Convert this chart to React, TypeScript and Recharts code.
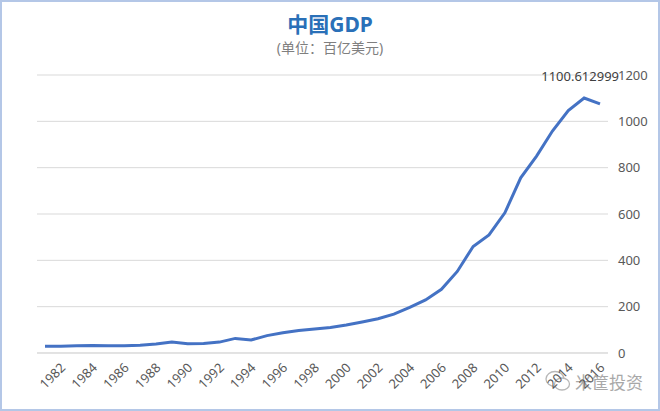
import React from "react";
import { LineChart, Line, XAxis, YAxis, CartesianGrid, LabelList } from "recharts";

const years = [
  "1981", "1982", "1983", "1984", "1985", "1986", "1987", "1988", "1989", "1990",
  "1991", "1992", "1993", "1994", "1995", "1996", "1997", "1998", "1999", "2000",
  "2001", "2002", "2003", "2004", "2005", "2006", "2007", "2008", "2009", "2010",
  "2011", "2012", "2013", "2014", "2015", "2016",
];

// 百亿美元
const gdp = [
  29, 29, 31, 32, 31, 31, 33, 39, 47, 40,
  41, 47, 63, 56, 75, 87, 97, 104, 110, 121,
  134, 148, 168, 197, 229, 275, 352, 460, 510, 605,
  756, 850, 958, 1046, 1100.612999, 1075,
];

const yTicks = [0, 200, 400, 600, 800, 1000, 1200];

const data = years.map((year, i) => ({ year, gdp: gdp[i] }));
const peakValue = Math.max(...gdp);

const FONT = "'Noto Sans', 'Noto Sans CJK SC', sans-serif";

function YearTick(props: { x?: number; y?: number; payload?: { value: string } }) {
  const { x, y, payload } = props;
  if (x == null || y == null || !payload) return <g />;
  if (Number(payload.value) % 2 !== 0) return <g />;
  return (
    <text
      x={x + 3}
      y={y + 5}
      transform={`rotate(-45, ${x + 3}, ${y + 5})`}
      textAnchor="end"
      dominantBaseline="middle"
      fontSize={13}
      fill="#595959"
      fontFamily={FONT}
    >
      {payload.value}
    </text>
  );
}

function PeakLabel(props: { x?: number; y?: number; value?: number }) {
  const { x, y, value } = props;
  if (x == null || y == null || value !== peakValue) return null;
  return (
    <text x={x - 4} y={y - 17} textAnchor="middle" fontSize={13} fill="#404040" fontFamily={FONT}>
      {value}
    </text>
  );
}

export default function App() {
  return (
    <div
      style={{
        position: "absolute",
        left: 0,
        top: 0,
        width: 660,
        height: 411,
        background: "#fff",
        boxSizing: "border-box",
        border: "2px solid #b4c7e7",
        fontFamily: FONT,
      }}
    >
      <div
        style={{
          position: "absolute",
          top: 6,
          left: 0,
          width: 656,
          textAlign: "center",
          fontSize: 21,
          fontWeight: "bold",
          color: "#2a70b8",
        }}
      >
        中国GDP
      </div>
      <div
        style={{
          position: "absolute",
          top: 35,
          left: 0,
          width: 656,
          textAlign: "center",
          fontSize: 14,
          color: "#7f7f7f",
        }}
      >
        (单位：百亿美元)
      </div>
      <svg
        width={30}
        height={26}
        style={{ position: "absolute", left: 541, top: 366, opacity: 0.7 }}
      >
        <ellipse cx={12} cy={11} rx={9} ry={7.5} fill="#fff" stroke="#9a9a9a" strokeWidth={1.3} />
        <ellipse cx={19} cy={16} rx={7.5} ry={6} fill="#fff" stroke="#9a9a9a" strokeWidth={1.3} />
      </svg>
      <div
        style={{
          position: "absolute",
          top: 367,
          left: 573,
          fontSize: 17,
          color: "#9a9a9a",
          opacity: 0.85,
        }}
      >
        米筐投资
      </div>
      <div style={{ position: "absolute", left: -2, top: -2 }}>
        <LineChart width={660} height={411} data={data} margin={{ top: 75, right: 0, bottom: 0, left: 37 }}>
          <CartesianGrid vertical={false} stroke="#d9d9d9" strokeWidth={1} />
          <XAxis
            dataKey="year"
            interval={0}
            tickLine={false}
            axisLine={{ stroke: "#d9d9d9" }}
            height={58}
            padding={{ left: 8, right: 8 }}
            tick={<YearTick />}
          />
          <YAxis
            orientation="right"
            domain={[0, 1200]}
            ticks={yTicks}
            axisLine={false}
            tickLine={false}
            width={52}
            tickMargin={4}
            tick={{ fontSize: 13, fill: "#595959", fontFamily: FONT }}
          />
          <Line
            type="linear"
            dataKey="gdp"
            stroke="#4472c4"
            strokeWidth={3}
            dot={false}
            isAnimationActive={false}
          >
            <LabelList dataKey="gdp" content={<PeakLabel />} />
          </Line>
        </LineChart>
      </div>
    </div>
  );
}
